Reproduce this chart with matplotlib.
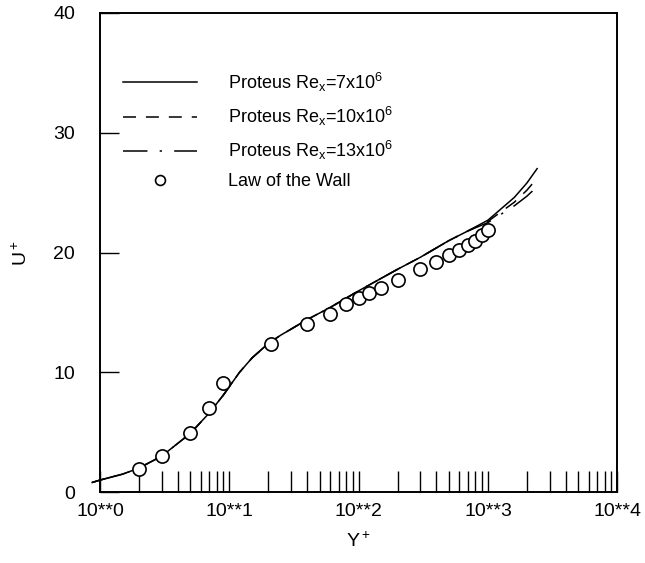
import numpy as np
import matplotlib.pyplot as plt
from matplotlib.ticker import FixedLocator, LogLocator, NullFormatter

plt.rcParams["font.family"] = ["Liberation Sans", "DejaVu Sans"]
plt.rcParams["mathtext.default"] = "regular"

# ==========================
# Data
# ==========================

# Proteus solutions, U+ vs Y+
yplus_line = [0.87, 1.0, 1.5, 2.0, 3.0, 5.0, 7.0, 9.0, 10.0, 12.0, 15.0, 20.0,
              25.0, 30.0, 40.0, 60.0, 100.0, 200.0, 300.0, 500.0, 700.0,
              1000.0, 1600.0, 2000.0, 2400.0]
u_re7 = [0.8, 1.0, 1.5, 2.0, 3.0, 4.9, 6.6, 8.1, 8.8, 10.0, 11.2, 12.4,
         13.1, 13.6, 14.4, 15.4, 16.8, 18.6, 19.6, 21.0, 21.8, 22.7, 24.6,
         25.8, 27.0]
u_re10 = [0.8, 1.0, 1.5, 2.0, 3.0, 4.9, 6.6, 8.1, 8.8, 10.0, 11.2, 12.4,
          13.1, 13.6, 14.4, 15.4, 16.8, 18.6, 19.6, 21.0, 21.8, 22.6, 24.2,
          25.2, 26.2]
u_re13 = [0.8, 1.0, 1.5, 2.0, 3.0, 4.9, 6.6, 8.1, 8.8, 10.0, 11.2, 12.4,
          13.1, 13.6, 14.4, 15.4, 16.8, 18.6, 19.6, 21.0, 21.8, 22.5, 23.9,
          24.7, 25.5]

# Law of the wall
yplus_law = [2, 3, 5, 7, 9, 21, 40, 60, 80, 100, 120, 150, 200, 300, 400,
             500, 600, 700, 800, 900, 1000]
u_law = [1.9, 3.0, 4.9, 7.0, 9.1, 12.4, 14.0, 14.9, 15.7, 16.2, 16.6, 17.0,
         17.7, 18.6, 19.2, 19.8, 20.2, 20.6, 21.0, 21.5, 21.9]

xtick_vals = [1, 10, 100, 1000, 10000]
xtick_labels = ["10**0", "10**1", "10**2", "10**3", "10**4"]

# ==========================
# Plot
# ==========================

fig = plt.figure(figsize=(6.45, 5.63), dpi=100)
ax = fig.add_axes([0.155, 0.126, 0.802, 0.851])

lw = 1.1
ax.plot(yplus_line, u_re7, "k-", lw=lw, clip_on=False,
        label=r"Proteus Re$_x$=7x10$^6$")
ax.plot(yplus_line, u_re10, "k", ls=(0, (8.5, 6.5)), lw=lw, clip_on=False,
        label=r"Proteus Re$_x$=10x10$^6$")
ax.plot(yplus_line, u_re13, "k", ls=(0, (16, 8, 1.5, 8)), lw=lw, clip_on=False,
        label=r"Proteus Re$_x$=13x10$^6$")
ax.plot(yplus_law, u_law, "o", mfc="white", mec="black", ms=9.5, mew=1.2,
        ls="none", label="Law of the Wall", zorder=3)

ax.set_xscale("log")
ax.set_xlim(1, 10000)
ax.set_ylim(0, 40)

ax.xaxis.set_major_locator(FixedLocator(xtick_vals))
ax.set_xticklabels(xtick_labels)
ax.xaxis.set_minor_locator(LogLocator(base=10, subs=np.arange(2, 10)))
ax.xaxis.set_minor_formatter(NullFormatter())
ax.set_yticks([0, 10, 20, 30, 40])

ax.tick_params(axis="x", which="both", direction="in", length=15, width=1.0,
               top=False, labelsize=14, pad=8)
ax.tick_params(axis="y", which="both", direction="in", length=14, width=1.0,
               right=False, labelsize=14, pad=18)

for sp in ax.spines.values():
    sp.set_linewidth(1.4)

ax.set_xlabel("Y$^+$", fontsize=14, labelpad=8)
ax.set_ylabel("U$^+$", fontsize=14, labelpad=16)

ax.legend(loc="upper left", frameon=False, fontsize=13, handlelength=4.1,
          handletextpad=1.7, labelspacing=0.62, borderaxespad=1.0,
          markerscale=0.75, bbox_to_anchor=(0.152, 0.9197),
          bbox_transform=fig.transFigure)

fig.savefig("out.png", dpi=100)
